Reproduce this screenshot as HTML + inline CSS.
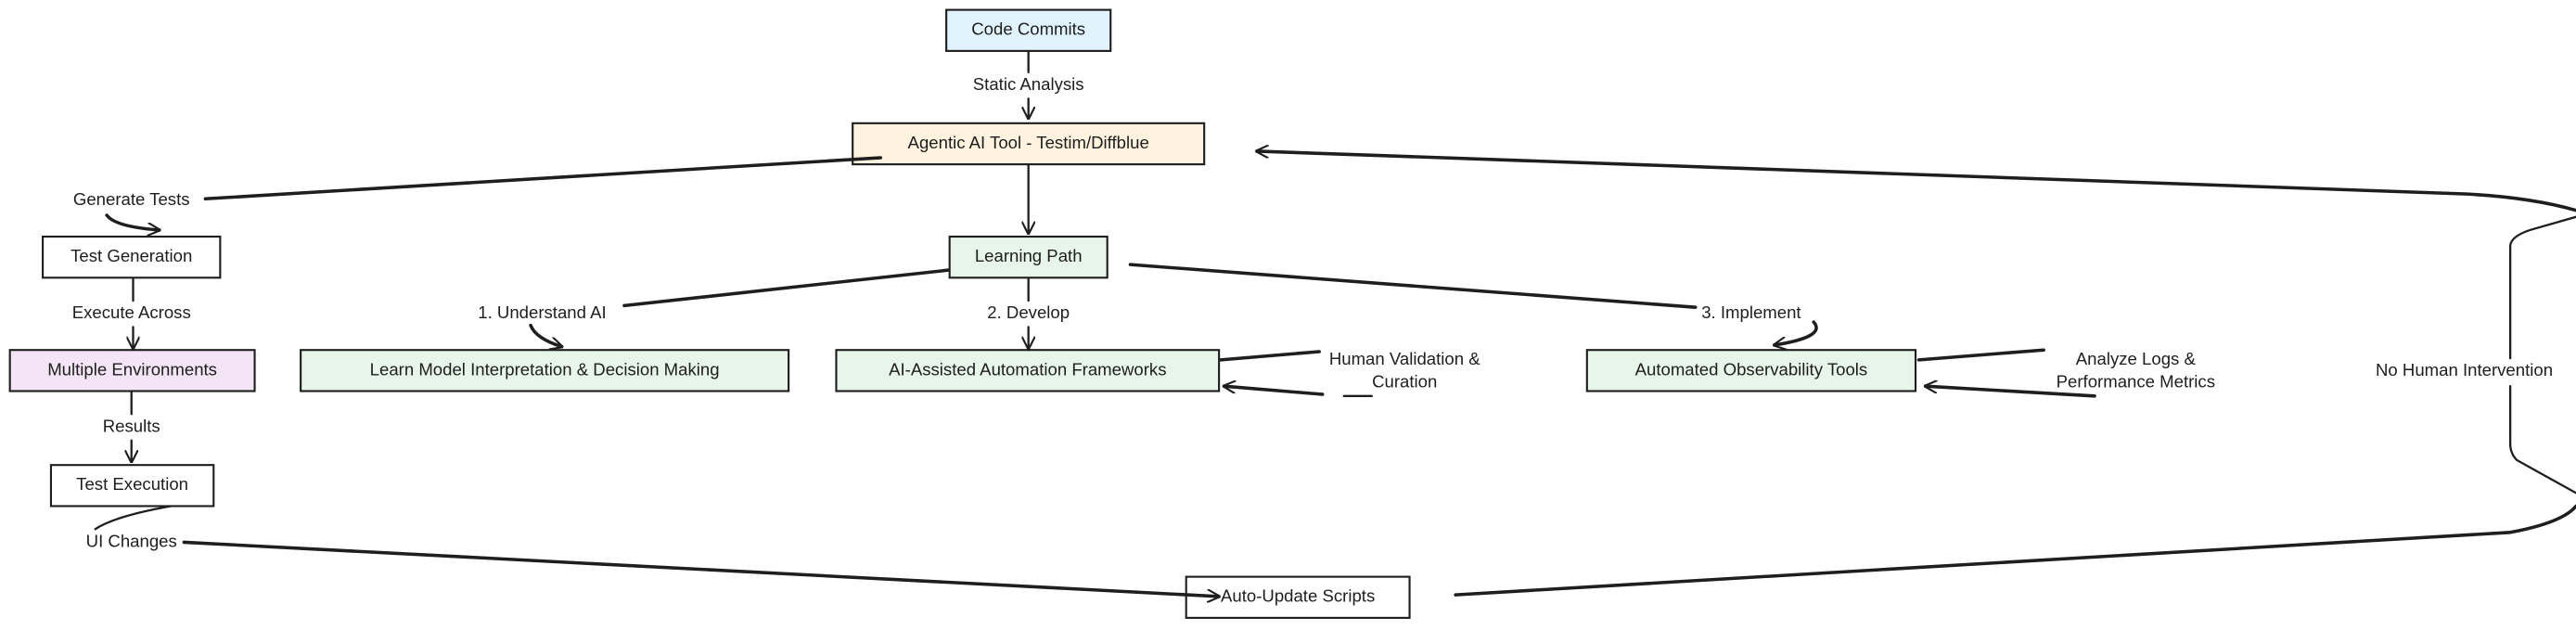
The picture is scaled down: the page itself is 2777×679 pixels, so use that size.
<!DOCTYPE html>
<html><head><meta charset="utf-8"><style>
html,body{margin:0;padding:0;background:#fff;}
svg{display:block}
text{font-family:"Liberation Sans",sans-serif;font-size:10.5px;fill:#1e1e1e;text-anchor:middle;dominant-baseline:middle;}
.b{stroke:#1e1e1e;stroke-width:1.2;}
.l{stroke:#1e1e1e;fill:none;stroke-width:1.3;stroke-linecap:round;}
.t{stroke:#1e1e1e;fill:none;stroke-width:2;stroke-linecap:round;}
</style></head><body>
<svg width="2777" height="679" viewBox="0 0 1568 383.4" xmlns="http://www.w3.org/2000/svg">
<defs><marker id="a" viewBox="0 0 10 10" refX="9" refY="5" markerWidth="8" markerHeight="8" orient="auto-start-reverse" markerUnits="userSpaceOnUse"><path d="M0,0 L10,5 L0,10" fill="none" stroke="#1e1e1e" stroke-width="1.5"/></marker></defs>

<!-- connectors -->
<path class="l" d="M626,31 L626,44 M626,60 L626,72" marker-end="url(#a)"/>
<path class="t" d="M65,131 Q70,138 97,140" marker-end="url(#a)"/>
<path class="l" d="M81,169 L81,183 M81,199 L81,212" marker-end="url(#a)"/>
<path class="l" d="M80,238 L80,252 M80,268 L80,281" marker-end="url(#a)"/>
<path class="l" d="M104,308 Q70,314 58,322"/>
<path class="t" d="M886,362 L1528,324 Q1560,318 1568,308"/>
<path class="l" d="M1568,300 L1532,280 Q1528,276 1528,270 L1528,235 M1528,218 L1528,150 Q1528,144 1540,140 L1568,132"/>
<path class="t" d="M1568,128 Q1540,120 1500,118 L765,92" marker-end="url(#a)"/>
<path class="l" d="M626,100 L626,142" marker-end="url(#a)"/>
<path class="t" d="M590,163 L380,186"/>
<path class="t" d="M323,198 Q326,206 342,211" marker-end="url(#a)"/>
<path class="l" d="M626,169 L626,183 M626,199 L626,212" marker-end="url(#a)"/>
<path class="t" d="M743,219 L803,214"/>
<path class="t" d="M805,240 L745,235" marker-end="url(#a)"/>
<path class="l" d="M818,241 L835,241"/>
<path class="t" d="M688,161 L1032,187"/>
<path class="t" d="M1104,196 Q1112,205 1080,210" marker-end="url(#a)"/>
<path class="t" d="M1168,219 L1244,213"/>
<path class="t" d="M1275,241 L1172,235" marker-end="url(#a)"/>

<!-- boxes -->
<rect class="b" x="576" y="6" width="100" height="25" fill="#e1f3fd"/>
<text x="626" y="18.5">Code Commits</text>
<rect class="b" x="519" y="75" width="214" height="25" fill="#fff3e0"/>
<text x="626" y="87.5">Agentic AI Tool - Testim/Diffblue</text>
<rect class="b" x="26" y="144" width="108" height="25" fill="#fff"/>
<text x="80" y="156.5">Test Generation</text>
<rect class="b" x="6" y="213" width="149" height="25" fill="#f3e5f5"/>
<text x="80.5" y="225.5">Multiple Environments</text>
<rect class="b" x="31" y="283" width="99" height="25" fill="#fff"/>
<text x="80.5" y="295.5">Test Execution</text>
<rect class="b" x="722" y="351" width="136" height="25" fill="#fff"/>
<text x="790" y="363.5">Auto-Update Scripts</text>
<rect class="b" x="578" y="144" width="96" height="25" fill="#e8f5e9"/>
<text x="626" y="156.5">Learning Path</text>
<rect class="b" x="183" y="213" width="297" height="25" fill="#e8f5e9"/>
<text x="331.5" y="225.5">Learn Model Interpretation &amp; Decision Making</text>
<rect class="b" x="509" y="213" width="233" height="25" fill="#e8f5e9"/>
<text x="625.5" y="225.5">AI-Assisted Automation Frameworks</text>
<rect class="b" x="966" y="213" width="200" height="25" fill="#e8f5e9"/>
<text x="1066" y="225.5">Automated Observability Tools</text>

<!-- connectors drawn over boxes -->
<path class="t" d="M536,96 L125,121"/>
<path class="t" d="M112,330 L742,363" marker-end="url(#a)"/>

<!-- labels -->
<text x="626" y="52">Static Analysis</text>
<text x="80" y="122">Generate Tests</text>
<text x="80" y="191">Execute Across</text>
<text x="80" y="260">Results</text>
<text x="80" y="330">UI Changes</text>
<text x="330" y="191">1. Understand AI</text>
<text x="626" y="191">2. Develop</text>
<text x="1066" y="191">3. Implement</text>
<text x="855" y="219">Human Validation &amp;</text>
<text x="855" y="233">Curation</text>
<text x="1300" y="219">Analyze Logs &amp;</text>
<text x="1300" y="233">Performance Metrics</text>
<text x="1500" y="226">No Human Intervention</text>
</svg>
</body></html>
